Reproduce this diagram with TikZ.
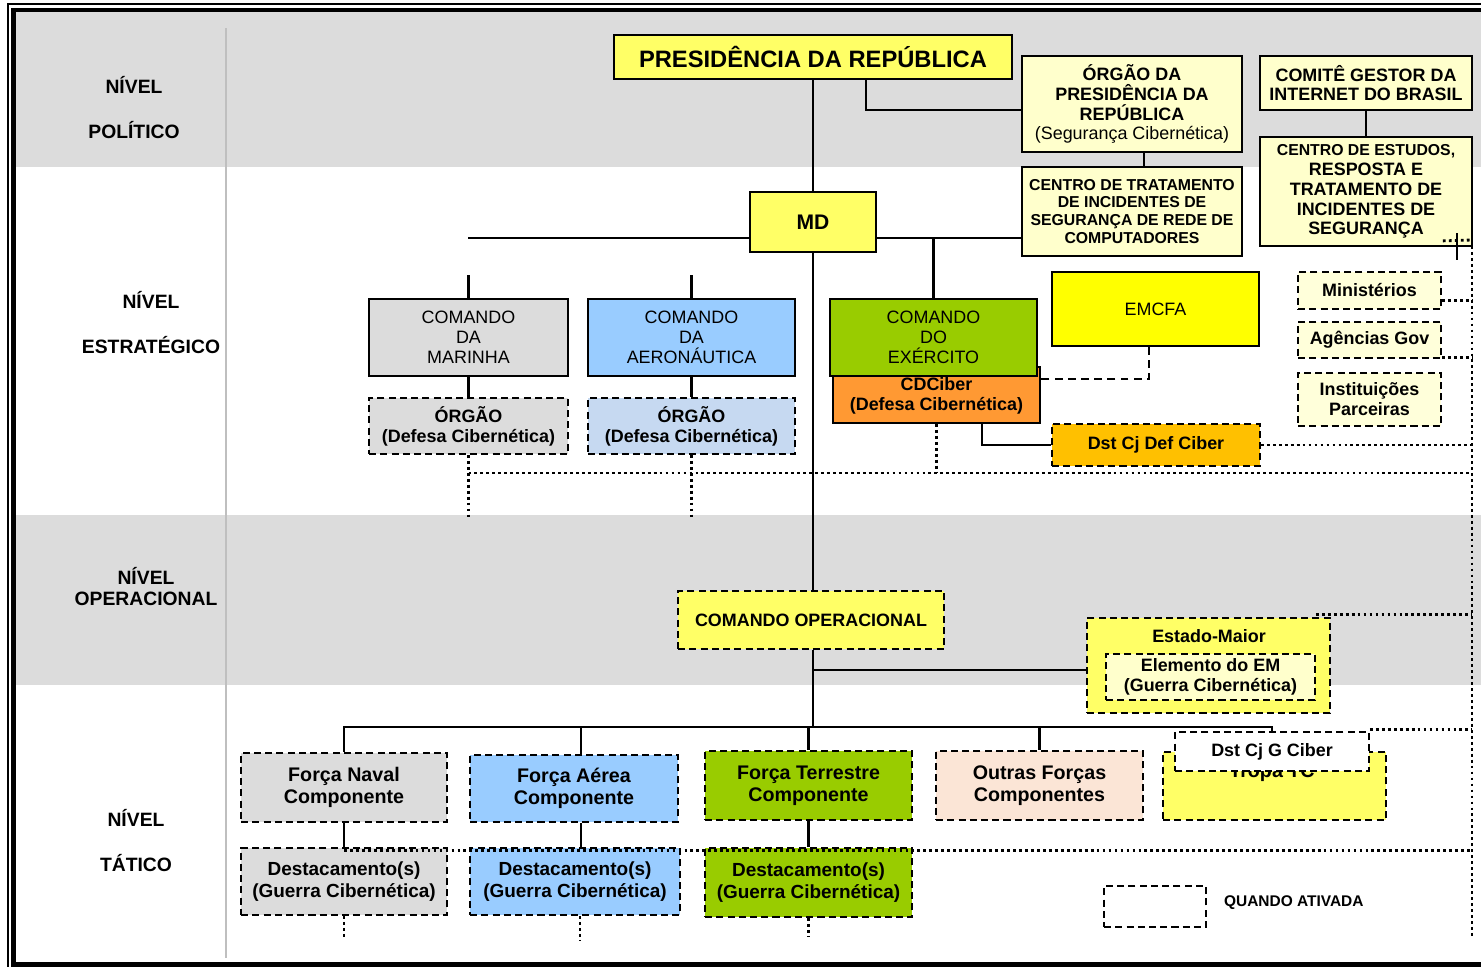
\documentclass[tikz,border=0pt]{standalone}
\usepackage{fontspec}
\setmainfont{Liberation Sans}
\usetikzlibrary{positioning}

\definecolor{cgray}{HTML}{DCDCDC}
\definecolor{cyel}{HTML}{FFFF66}
\definecolor{cyelb}{HTML}{FFFF00}
\definecolor{cpale}{HTML}{FFFFCC}
\definecolor{cpale2}{HTML}{FFFFDA}
\definecolor{cblue}{HTML}{99CCFF}
\definecolor{cblue2}{HTML}{C6D9F1}
\definecolor{cgreen}{HTML}{99CC00}
\definecolor{corange}{HTML}{FF9933}
\definecolor{camber}{HTML}{FFC000}
\definecolor{cpeach}{HTML}{FBE5D6}

\begin{document}
\begin{tikzpicture}[x=0.02cm,y=-0.02cm,
  every node/.style={font=\fontsize{10.2}{11.3}\selectfont},
  bx/.style={draw,line width=1pt,align=center,inner sep=0pt},
  dbx/.style={draw,line width=1pt,dash pattern=on 4pt off 2.4pt,align=center,inner sep=0pt},
  bf/.style={font=\bfseries\fontsize{10.2}{11.3}\selectfont},
  lvl/.style={font=\bfseries\fontsize{11}{13}\selectfont},
  conn/.style={line width=1.6pt},
  dsh/.style={line width=1.6pt,dash pattern=on 4.5pt off 3pt},
  dot/.style={line width=1.6pt,dash pattern=on 1.6pt off 1.8pt}]
\useasboundingbox (0,0) rectangle (1481,967);
\clip (0,0) rectangle (1481,967);
\fill[cgray] (15,12) rectangle (1481,167);
\fill[cgray] (15,515) rectangle (1481,685);
\draw[black!25,line width=.6pt] (226,28) -- (226,958);
\draw[line width=.7pt] (1495,4) -- (8,4) -- (8,990);
\draw[line width=2.7pt] (1495,10) -- (13.4,10) -- (13.4,964.8) -- (1495,964.8);

\node[lvl] (np1) at (134,85) {NÍVEL};
\node[lvl] (np2) at (134,130) {POLÍTICO};
\node[lvl] (ne1) at (151,300) {NÍVEL};
\node[lvl] (ne2) at (151,345) {ESTRATÉGICO};
\node[lvl] (no1) at (146,576) {NÍVEL};
\node[lvl] (no2) at (146,599) {OPERACIONAL};
\node[lvl] (nt1) at (136,818) {NÍVEL};
\node[lvl] (nt2) at (136,863) {TÁTICO};

\node[bx,fill=cyel,minimum width=7.96cm,minimum height=.88cm,font=\bfseries\fontsize{13.5}{16}\selectfont] (pres) at (813,57) {PRESIDÊNCIA DA REPÚBLICA};
\node[bx,bf,fill=cpale,minimum width=4.4cm,minimum height=1.92cm] (orgpr) at (1132,104) {ÓRGÃO DA\\PRESIDÊNCIA DA\\REPÚBLICA\\\mdseries (Segurança Cibernética)};
\node[bx,bf,fill=cpale,minimum width=4.24cm,minimum height=1.08cm] (cgi) at (1366,83) {COMITÊ GESTOR DA\\INTERNET DO BRASIL};
\node[bx,bf,fill=cpale,minimum width=4.24cm,minimum height=2.18cm] (cert) at (1366,191.5) {\fontsize{9}{10.2}\selectfont CENTRO DE ESTUDOS,\\RESPOSTA E\\TRATAMENTO DE\\\fontsize{10.2}{11.3}\selectfont INCIDENTES DE\\SEGURANÇA};
\node[bx,bf,fill=cpale,minimum width=4.4cm,minimum height=1.78cm,font=\bfseries\fontsize{9}{10.2}\selectfont] (ctir) at (1132,211.5) {CENTRO DE TRATAMENTO\\DE INCIDENTES DE\\SEGURANÇA DE REDE DE\\COMPUTADORES};
\node[bx,fill=cyel,minimum width=2.52cm,minimum height=1.2cm,font=\bfseries\fontsize{12}{14}\selectfont] (md) at (813,222) {MD};

\node[bx,fill=cgray,minimum width=3.98cm,minimum height=1.54cm] (mar) at (468.5,337.5) {COMANDO\\DA\\MARINHA};
\node[bx,fill=cblue,minimum width=4.14cm,minimum height=1.54cm] (aer) at (691.5,337.5) {COMANDO\\DA\\AERONÁUTICA};
\node[bx,bf,fill=corange,minimum width=4.14cm,minimum height=1.12cm] (cdc) at (936.5,395) {\\[-3pt]CDCiber\\(Defesa Cibernética)};
\node[bx,fill=cgreen,minimum width=4.14cm,minimum height=1.54cm] (exe) at (933.5,337.5) {COMANDO\\DO\\EXÉRCITO};
\node[bx,fill=cyelb,minimum width=4.14cm,minimum height=1.48cm] (emcfa) at (1155.5,309) {EMCFA};
\node[dbx,bf,fill=cgray,minimum width=3.98cm,minimum height=1.12cm] (omar) at (468.5,426) {ÓRGÃO\\(Defesa Cibernética)};
\node[dbx,bf,fill=cblue2,minimum width=4.14cm,minimum height=1.12cm] (oaer) at (691.5,426) {ÓRGÃO\\(Defesa Cibernética)};
\node[dbx,bf,fill=camber,minimum width=4.16cm,minimum height=.84cm] (dstdef) at (1156,445) {Dst Cj Def Ciber};
\node[dbx,bf,fill=cpale2,minimum width=2.86cm,minimum height=.74cm] (min) at (1369.5,290.5) {Ministérios};
\node[dbx,bf,fill=cpale2,minimum width=2.86cm,minimum height=.72cm] (age) at (1369.5,340) {Agências Gov};
\node[dbx,bf,fill=cpale2,minimum width=2.86cm,minimum height=1.06cm] (inst) at (1369.5,399.5) {Instituições\\Parceiras};

\node[dbx,bf,fill=cyel,minimum width=5.32cm,minimum height=1.16cm] (cop) at (811,620) {COMANDO OPERACIONAL};
\node[dbx,fill=cyel,minimum width=4.86cm,minimum height=1.9cm] (em) at (1208.5,665.5) {};
\node[bf] (emt) at (1209,636) {Estado-Maior};
\node[dbx,bf,fill=cpale,minimum width=4.18cm,minimum height=.92cm] (elem) at (1210.5,677) {Elemento do EM\\(Guerra Cibernética)};

\node[dbx,fill=cgray,minimum width=4.12cm,minimum height=1.38cm,font=\bfseries\fontsize{11.2}{12.5}\selectfont] (fnc) at (344,787.5) {Força Naval\\Componente};
\node[dbx,fill=cblue,minimum width=4.16cm,minimum height=1.34cm,font=\bfseries\fontsize{11.2}{12.5}\selectfont] (fac) at (574,788.5) {Força Aérea\\Componente};
\node[dbx,fill=cgreen,minimum width=4.14cm,minimum height=1.38cm,font=\bfseries\fontsize{11.2}{12.5}\selectfont] (ftc) at (808.5,785.5) {Força Terrestre\\Componente};
\node[dbx,fill=cpeach,minimum width=4.14cm,minimum height=1.38cm,font=\bfseries\fontsize{11.2}{12.5}\selectfont] (ofc) at (1039.5,785.5) {Outras Forças\\Componentes};
\node[dbx,fill=cyel,minimum width=4.46cm,minimum height=1.36cm] (tropa) at (1274.5,786) {};
\node[font=\bfseries\fontsize{11.2}{12.5}\selectfont] (tropat) at (1272,773) {Tropa TC};
\node[dbx,bf,fill=white,minimum width=3.88cm,minimum height=.78cm] (dstg) at (1272,751.5) {Dst Cj G Ciber};

\node[dbx,fill=cgray,minimum width=4.12cm,minimum height=1.34cm,font=\bfseries\fontsize{10.8}{12.5}\selectfont] (dn) at (344,881.5) {Destacamento(s)\\(Guerra Cibernética)};
\node[dbx,fill=cblue,minimum width=4.2cm,minimum height=1.34cm,font=\bfseries\fontsize{10.8}{12.5}\selectfont] (da) at (575,881.5) {Destacamento(s)\\(Guerra Cibernética)};
\node[dbx,fill=cgreen,minimum width=4.14cm,minimum height=1.38cm,font=\bfseries\fontsize{10.8}{12.5}\selectfont] (dt) at (808.5,882.5) {Destacamento(s)\\(Guerra Cibernética)};

\node[dbx,minimum width=2.04cm,minimum height=.82cm] (leg) at (1155,906.5) {};
\node[font=\bfseries\fontsize{8.8}{10}\selectfont,right=.22cm of leg,yshift=.08cm] (legt) {QUANDO ATIVADA};

\coordinate (bl) at (468,238);
\coordinate (bus) at (813,727);
\coordinate (dr) at (1472,473);
\coordinate (rt) at (1472,240);
\coordinate (rb) at (1472,937);

\draw[conn] (pres.south) -- (md.north);
\draw[conn] ([xshift=1.06cm]pres.south) |- ([yshift=-.12cm]orgpr.west);
\draw[conn] ([xshift=.24cm]orgpr.south) -- ([xshift=.24cm]ctir.north);
\draw[conn] (cgi.south) -- (cert.north);
\draw[conn] (bl) -- (bl -| md.west);
\draw[conn] (md.east |- bl) -- (bl -| ctir.west);
\draw[conn] (exe.north) -- (exe.north |- bl);
\draw[conn] (mar.north) -- ++(0,-23);
\draw[conn] (aer.north) -- ++(0,-23);
\draw[conn] (mar.south) -- (omar.north);
\draw[conn] (aer.south) -- (oaer.north);
\draw[conn] ([xshift=.91cm]cdc.south) |- (dstdef.west);
\draw[dsh] ([xshift=-.13cm]emcfa.south) |- ([yshift=.32cm]cdc.east);
\draw[conn] (md.south) -- (md.south |- cop.north);
\draw[conn] (md.south |- cop.south) -- (bus);
\draw[conn] (md.south |- em.west) ++(0,4.5) coordinate (embr) -- (embr -| em.west);
\draw[conn] (fnc.north) |- (bus) -| (dstg.north);
\draw[conn] ([xshift=.14cm]fac.north) coordinate (f1) -- (f1 |- bus);
\draw[conn] (ftc.north) -- (ftc.north |- bus);
\draw[conn] (ofc.north) -- (ofc.north |- bus);
\draw[conn] (fnc.south) -- (dn.north);
\draw[conn] ([xshift=.14cm]fac.south) coordinate (f2) -- (f2 |- da.north);
\draw[conn] (ftc.south) -- (dt.north);

\draw[dot] (omar.south) -- ++(0,63);
\draw[dot] (oaer.south) -- ++(0,63);
\draw[dot] (omar.south |- dr) -- (dr);
\draw[dot] (cdc.south) -- (cdc.south |- dr);
\draw[dot] (rt) -- (rb);
\draw[dot] ([xshift=-.6cm,yshift=.12cm]cert.south east) -- (rt);
\draw[line width=1.2pt] (1457,233) -- (1457,260);
\draw[dot] ([yshift=.18cm]min.south east) coordinate (m1) -- (m1 -| rt);
\draw[dot] ([yshift=.02cm]age.south east) coordinate (a1) -- (a1 -| rt);
\draw[dot] (dstdef.east) -- (dstdef.east -| rt);
\draw[dot] ([xshift=-.3cm,yshift=.06cm]em.north east) coordinate (e1) -- (e1 -| rt);
\draw[dot] ([yshift=.04cm]dstg.north east) coordinate (g1) -- (g1 -| rt);
\draw[dot] ([yshift=-.06cm]dn.north) coordinate (d1) -- (d1 -| rt);
\draw[dot] (dn.south) -- ++(0,22);
\draw[dot] ([xshift=.1cm]da.south) -- ++(0,25);
\draw[dot] (dt.south) -- ++(0,18);
\end{tikzpicture}
\end{document}
